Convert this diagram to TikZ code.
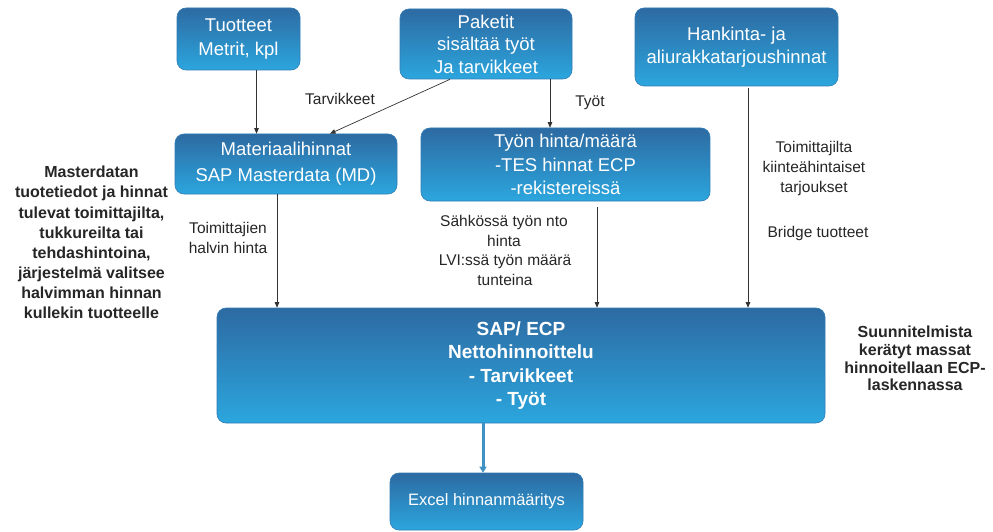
\documentclass[tikz,border=0pt]{standalone}
\usepackage{fontspec}
\setmainfont{Liberation Sans}
\usetikzlibrary{arrows.meta}
\definecolor{btop}{RGB}{45,106,162}
\definecolor{bbot}{RGB}{44,166,222}
\definecolor{bedge}{RGB}{48,124,182}
\definecolor{lbl}{RGB}{38,38,38}
\definecolor{blarrow}{RGB}{62,146,196}
\begin{document}
\begin{tikzpicture}[x=1pt,y=-1pt,
  box/.style={rounded corners=9pt, top color=btop, bottom color=bbot, draw=bedge, line width=0.6pt,
    text=white, align=center, inner sep=0pt, font=\fontsize{18.5}{23}\selectfont},
  lab/.style={text=lbl, align=center, inner sep=0pt, font=\fontsize{15.5}{20}\selectfont},
  note/.style={text=lbl, align=center, inner sep=0pt, font=\bfseries\fontsize{16}{20.1}\selectfont},
  arr/.style={draw=black!80, line width=0.7pt, -{Triangle[length=5.5pt,width=4.5pt]}},
  bigarr/.style={draw=blarrow, line width=3pt, -{Triangle[length=6pt,width=7pt]}},
]
\useasboundingbox (0,0) rectangle (993,532);
\fill[white] (0,0) rectangle (993,532);

% boxes
\node[box, minimum width=123pt, minimum height=62pt, font=\fontsize{18.5}{24}\selectfont] (tuot) at (238.5,39) {Tuotteet\\Metrit, kpl};
\node[box, minimum width=172pt, minimum height=70pt, font=\fontsize{18.5}{22.5}\selectfont] (pak) at (486,44) {Paketit\\sisältää työt\\Ja tarvikkeet};
\node[box, minimum width=203pt, minimum height=78pt] (hank) at (736.5,47) {Hankinta- ja\\aliurakkatarjoushinnat};
\node[box, minimum width=222pt, minimum height=60pt, font=\fontsize{18.5}{26}\selectfont] (mat) at (286,164) {Materiaalihinnat\\SAP Masterdata (MD)};
\node[box, minimum width=289pt, minimum height=73pt, font=\fontsize{18.5}{23.5}\selectfont] (tyon) at (565.5,164.5) {Työn hinta/määrä\\-TES hinnat  ECP\\-rekistereissä};
\node[box, minimum width=608pt, minimum height=115pt, font=\bfseries\fontsize{19}{23.5}\selectfont] (sap) at (521,365.5) {SAP/ ECP\\Nettohinnoittelu\\- Tarvikkeet\\- Työt};
\node[box, minimum width=193pt, minimum height=57pt, font=\fontsize{16.5}{20}\selectfont] (excel) at (486.5,501.5) {Excel hinnanmääritys};

% connectors
\draw[arr] ([xshift=18pt]tuot.south) coordinate (p1) -- (p1 |- mat.north);
\draw[arr] ([xshift=-36pt]pak.south) -- ([xshift=44pt]mat.north);
\draw[arr] ([xshift=64pt]pak.south) coordinate (p3) -- (p3 |- tyon.north);
\draw[arr] ([xshift=11.5pt,yshift=-2pt]hank.south) coordinate (p4) -- (p4 |- sap.north);
\draw[arr] ([xshift=-9pt]mat.south) coordinate (p5) -- (p5 |- sap.north);
\draw[arr] ([xshift=31.5pt,yshift=-6pt]tyon.south) coordinate (p6) -- (p6 |- sap.north);
\draw[bigarr] ([xshift=-38pt]sap.south) coordinate (p7) -- (p7 |- excel.north);

% labels
\node[lab] (ltarv) at (340,99) {Tarvikkeet};
\node[lab] (ltyot) at (590,103) {Työt};
\node[lab] (ltoim) at (228,238) {Toimittajien\\halvin hinta};
\node[lab] (lsahko) at (504,231) {Sähkössä työn nto\\hinta};
\node[lab] (llvi) at (505,270.5) {LVI:ssä työn määrä\\tunteina};
\node[lab] (lkiint) at (814,168) {Toimittajilta\\kiinteähintaiset\\tarjoukset};
\node[lab] (lbridge) at (818,233) {Bridge tuotteet};

% side notes
\node[note] (nleft) at (91.5,242.5) {Masterdatan\\tuotetiedot ja hinnat\\tulevat toimittajilta,\\tukkureilta tai\\tehdashintoina,\\järjestelmä valitsee\\halvimman hinnan\\kullekin tuotteelle};
\node[note, font=\bfseries\fontsize{16}{17.7}\selectfont] (nright) at (915,358.5) {Suunnitelmista\\kerätyt massat\\hinnoitellaan  ECP-\\laskennassa};
\end{tikzpicture}
\end{document}
